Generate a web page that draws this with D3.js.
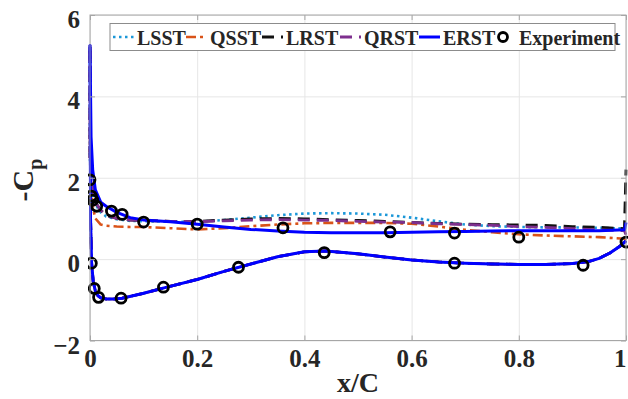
<!DOCTYPE html>
<html>
<head>
<meta charset="utf-8">
<script src="https://cdn.jsdelivr.net/npm/d3@7/dist/d3.min.js"></script>
<style>
  html, body { margin: 0; padding: 0; background: #fff; }
  svg { display: block; font-family: 'Liberation Serif', 'Times New Roman', serif; font-weight: bold; }
</style>
</head>
<body>
<div id="chart"></div>
<script>
// x/C stations for the model curves (upper surface)
const xUpper = [0, 0.002, 0.005, 0.01, 0.02, 0.03, 0.05, 0.075, 0.1, 0.15, 0.2, 0.25, 0.3, 0.35,
  0.4, 0.45, 0.5, 0.55, 0.6, 0.65, 0.7, 0.75, 0.8, 0.85, 0.9, 0.95, 0.997, 1.0]
// -Cp on upper surface, one array per model
const lsstUpper = [2.4, 2.0, 1.6, 1.35, 1.15, 1.05, 0.98, 0.94, 0.93, 0.92, 0.92, 0.96, 1.02, 1.08,
  1.12, 1.13, 1.12, 1.09, 1.02, 0.93, 0.85, 0.81, 0.79, 0.78, 0.78, 0.77, 0.75, 0.74]
const qsstUpper = [2.6, 1.8, 1.3, 1.0, 0.85, 0.82, 0.8, 0.79, 0.79, 0.76, 0.73, 0.76, 0.81, 0.85,
  0.88, 0.89, 0.89, 0.89, 0.87, 0.8, 0.72, 0.66, 0.61, 0.58, 0.56, 0.54, 0.5, 0.45]
const lrstUpper = [2.5, 2.1, 1.7, 1.4, 1.2, 1.08, 1.0, 0.96, 0.95, 0.93, 0.93, 0.96, 0.99, 1.0,
  0.99, 0.97, 0.95, 0.93, 0.9, 0.88, 0.86, 0.85, 0.84, 0.83, 0.8, 0.78, 0.75, 2.2]
const qrstUpper = [2.5, 2.1, 1.7, 1.4, 1.2, 1.08, 1.0, 0.96, 0.95, 0.93, 0.92, 0.94, 0.96, 0.97,
  0.96, 0.95, 0.93, 0.91, 0.9, 0.87, 0.85, 0.83, 0.8, 0.78, 0.75, 0.72, 0.7, 0.6]
const erstUpper = [5.25, 3.0, 2.2, 1.7, 1.4, 1.3, 1.15, 1.02, 0.96, 0.92, 0.86, 0.79, 0.73, 0.69,
  0.66, 0.65, 0.65, 0.65, 0.66, 0.67, 0.68, 0.69, 0.7, 0.7, 0.7, 0.7, 0.72, 0.9]

// lower surface (all models lie on top of each other here)
const xLower = [0, 0.001, 0.003, 0.006, 0.01, 0.015, 0.02, 0.03, 0.045, 0.06, 0.08, 0.1, 0.14, 0.2,
  0.25, 0.3, 0.35, 0.4, 0.44, 0.5, 0.55, 0.6, 0.65, 0.7, 0.75, 0.8, 0.85, 0.9, 0.93, 0.95, 0.97, 0.99, 1.0]
const erstLower = [5.25, 1.0, -0.1, -0.55, -0.78, -0.9, -0.95, -0.98, -0.98, -0.96, -0.9, -0.84, -0.7, -0.5,
  -0.3, -0.12, 0.06, 0.18, 0.2, 0.13, 0.05, -0.02, -0.07, -0.1, -0.12, -0.13, -0.13, -0.11, -0.06, 0.02, 0.15, 0.33, 0.45]

// experiment
const expUpperX = [0, 0.0025, 0.005, 0.0125, 0.04, 0.06, 0.1, 0.2, 0.36, 0.56, 0.68, 0.8, 1.0]
const expUpperV = [1.95, 1.55, 1.45, 1.3, 1.18, 1.1, 0.91, 0.86, 0.77, 0.67, 0.64, 0.54, 0.42]
const expLowerX = [0.0025, 0.008, 0.016, 0.058, 0.137, 0.277, 0.437, 0.68, 0.92]
const expLowerV = [-0.1, -0.72, -0.94, -0.96, -0.69, -0.2, 0.16, -0.1, -0.15]

const xTicks = [0, 0.2, 0.4, 0.6, 0.8, 1]
const yTicks = [-2, 0, 2, 4, 6]

const width = 628
const height = 399
const margin = { top: 15, right: 2, bottom: 58.5, left: 90 }
const plotW = width - margin.left - margin.right
const plotH = height - margin.top - margin.bottom

const series = [
  { name: 'LSST', upper: lsstUpper, color: '#1b97d8', width: 2.6, dash: '2.5,3.5' },
  { name: 'QSST', upper: qsstUpper, color: '#d95319', width: 2.6, dash: '10,4,3,4' },
  { name: 'LRST', upper: lrstUpper, color: '#111111', width: 2.8, dash: '12,7' },
  { name: 'QRST', upper: qrstUpper, color: '#7e2f8e', width: 2.8, dash: '12,7' },
  { name: 'ERST', upper: erstUpper, color: '#0000ff', width: 3, dash: null }
]

const svg = d3.select('#chart')
  .append('svg')
  .attr('width', width)
  .attr('height', height)

const g = svg.append('g')
  .attr('transform', `translate(${margin.left},${margin.top})`)

const x = d3.scaleLinear().domain([0, 1]).range([0, plotW])
const y = d3.scaleLinear().domain([-2, 6]).range([plotH, 0])

// grid lines
g.append('g')
  .attr('class', 'grid-x')
  .attr('transform', `translate(0,${plotH})`)
  .call(d3.axisBottom(x).tickValues(xTicks).tickSize(-plotH).tickFormat(''))
  .call(s => s.select('.domain').remove())
  .call(s => s.selectAll('line').attr('stroke', '#e6e6e6'))
g.append('g')
  .attr('class', 'grid-y')
  .call(d3.axisLeft(y).tickValues(yTicks).tickSize(-plotW).tickFormat(''))
  .call(s => s.select('.domain').remove())
  .call(s => s.selectAll('line').attr('stroke', '#e6e6e6'))

// clip so the curves stay in the box
svg.append('defs').append('clipPath').attr('id', 'plot-clip')
  .append('rect').attr('x', -2).attr('y', -2).attr('width', plotW + 4).attr('height', plotH + 4)

const line = d3.line().x(d => x(d[0])).y(d => y(d[1]))

// closed curve: lower surface from TE to LE, then upper surface from LE to TE
function curvePoints (upper) {
  const lower = xLower.map((xv, i) => [xv, erstLower[i]]).reverse()
  const up = xUpper.map((xv, i) => [xv, upper[i]])
  return lower.concat(up)
}

const curves = g.append('g').attr('clip-path', 'url(#plot-clip)')
series.forEach(s => {
  curves.append('path')
    .datum(curvePoints(s.upper))
    .attr('fill', 'none')
    .attr('stroke', s.color)
    .attr('stroke-width', s.width)
    .attr('stroke-dasharray', s.dash)
    .attr('stroke-linejoin', 'round')
    .attr('d', line)
})

// experiment circles
const expPts = expUpperX.map((xv, i) => [xv, expUpperV[i]])
  .concat(expLowerX.map((xv, i) => [xv, expLowerV[i]]))
curves.append('g').selectAll('circle')
  .data(expPts)
  .enter().append('circle')
  .attr('cx', d => x(d[0]))
  .attr('cy', d => y(d[1]))
  .attr('r', 5)
  .attr('fill', 'none')
  .attr('stroke', '#000')
  .attr('stroke-width', 2.8)

// axes box + inward ticks
const axisColor = '#a6a6a6'
function styleAxis (s) {
  s.select('.domain').remove()
  s.selectAll('line').attr('stroke', axisColor)
  s.selectAll('text').attr('fill', '#262626').attr('font-size', 25)
    .attr('font-family', 'Liberation Serif').attr('font-weight', 'bold')
}
g.append('g')
  .attr('transform', `translate(0,${plotH})`)
  .call(d3.axisBottom(x).tickValues(xTicks).tickSize(-5).tickPadding(9).tickFormat(d3.format('~g')))
  .call(styleAxis)
  // last label sits right on the figure edge, keep it inside
  .call(s => s.selectAll('text').filter(d => d === 1).attr('text-anchor', 'end').attr('dx', 0))
g.append('g')
  .call(d3.axisTop(x).tickValues(xTicks).tickSize(-5).tickFormat(''))
  .call(styleAxis)
g.append('g')
  .call(d3.axisLeft(y).tickValues(yTicks).tickSize(-5).tickPadding(10).tickFormat(d3.format('~g')))
  .call(styleAxis)
  .call(s => s.selectAll('text').attr('dy', '0.5em'))
g.append('g')
  .attr('transform', `translate(${plotW},0)`)
  .call(d3.axisRight(y).tickValues(yTicks).tickSize(-5).tickFormat(''))
  .call(styleAxis)
g.append('rect')
  .attr('width', plotW).attr('height', plotH)
  .attr('fill', 'none').attr('stroke', axisColor).attr('stroke-width', 1)

// axis labels
svg.append('text')
  .attr('x', 358).attr('y', 392)
  .attr('text-anchor', 'middle')
  .attr('font-size', 28)
  .attr('fill', '#262626')
  .text('x/C')
const yLabel = svg.append('text')
  .attr('transform', 'translate(33,180) rotate(-90)')
  .attr('text-anchor', 'middle')
  .attr('font-size', 30)
  .attr('fill', '#262626')
yLabel.append('tspan').text('-C')
yLabel.append('tspan').attr('font-size', 20).attr('baseline-shift', '-9').text('p')

// legend
const legend = svg.append('g').attr('class', 'legend')
legend.append('rect')
  .attr('x', 110).attr('y', 23.5).attr('width', 505).attr('height', 27)
  .attr('fill', '#fff').attr('stroke', '#8c8c8c').attr('stroke-width', 1)
const legendX = [113, 186, 262, 340, 419]
series.forEach((s, i) => {
  legend.append('line')
    .attr('x1', legendX[i]).attr('x2', legendX[i] + 21)
    .attr('y1', 37).attr('y2', 37)
    .attr('stroke', s.color)
    .attr('stroke-width', s.width)
    .attr('stroke-dasharray', s.dash)
  legend.append('text')
    .attr('x', legendX[i] + 24).attr('y', 45)
    .attr('font-size', 20).attr('fill', '#262626')
    .text(s.name)
})
legend.append('circle')
  .attr('cx', 503).attr('cy', 37).attr('r', 4.5)
  .attr('fill', 'none').attr('stroke', '#000').attr('stroke-width', 2.8)
legend.append('text')
  .attr('x', 519).attr('y', 45)
  .attr('font-size', 20).attr('fill', '#262626')
  .text('Experiment')
</script>
</body>
</html>
